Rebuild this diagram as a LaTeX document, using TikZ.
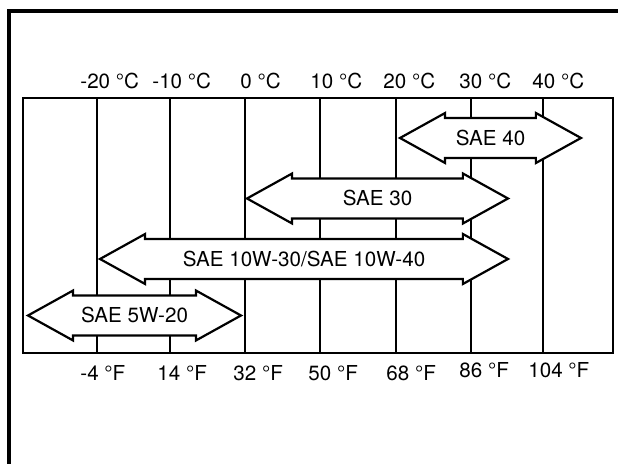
\documentclass[tikz,border=0pt]{standalone}
\usepackage{fontspec}
\setmainfont{TeX Gyre Heros}
\usetikzlibrary{shapes.arrows}

\tikzset{
  band/.style={double arrow, draw, fill=white, line width=1.1pt,
    double arrow tip angle=58, double arrow head extend=2.5pt,
    minimum width=23pt, inner xsep=0pt, inner ysep=5.8pt,
    text height=7.3pt, text depth=0pt},
  templabel/.style={anchor=base west, inner sep=0pt}
}

\begin{document}
\begin{tikzpicture}[x=0.5pt,y=-0.5pt,font=\fontsize{10.3}{12}\selectfont]
  \useasboundingbox (0,0) rectangle (618,464);

  % outer frame
  \draw[line width=1.6pt] (9,464) |- (618,11);

  % chart grid
  \draw[line width=1.3pt] (23,98) rectangle (613,353);
  \foreach \x in {97,170,245,320,396,471,543}
    \draw[line width=1pt] (\x,98) -- (\x,353);

  \begin{scope}[every node/.style={templabel}]
    \foreach \x/\t [count=\i] in {80/-20,152/-10,240/0,310/10,383/20,459/30,532/40}
      \node (c\i) at (\x,89) {\t~°C};
    \foreach \x/\y/\t [count=\i] in {80/381/-4,157/381/14,233/381/32,308/381/50,386/381/68,459/378/86,528/378/104}
      \node (f\i) at (\x,\y) {\t~°F};
  \end{scope}

  % oil grades
  \begin{scope}[every node/.style={band}]
    \node[minimum height=90.5pt]  (sae40) at (490.5,138)   {SAE 40};
    \node[minimum height=130.5pt] (sae30) at (377.5,198.5) {SAE 30};
    \node[minimum height=204pt]   (sae10w) at (304,259)    {SAE 10W-30/SAE 10W-40};
    \node[minimum height=106.5pt] (sae5w) at (134.5,315.5) {SAE 5W-20};
  \end{scope}

\end{tikzpicture}
\end{document}
